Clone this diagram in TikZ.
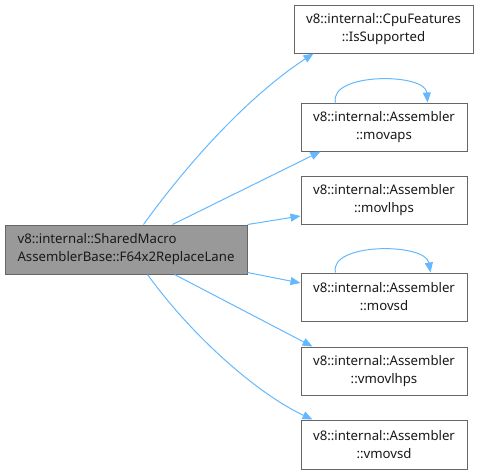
\documentclass[tikz,border=0pt]{standalone}
\usepackage{fontspec}
\setmainfont{Noto Sans}
\usetikzlibrary{arrows.meta,calc}
\definecolor{edgeblue}{HTML}{63B8FF}
\definecolor{boxborder}{HTML}{666666}
\definecolor{mainfill}{HTML}{999999}
\begin{document}
\begin{tikzpicture}[x=1pt,y=-1pt,
  box/.style={draw=boxborder,line width=1pt,fill=white,minimum height=48pt,inner sep=0pt,align=center,font=\fontsize{13.2}{18}\selectfont,text=black!90},
  mainbox/.style={box,fill=mainfill,align=left},
  edge/.style={draw=edgeblue,line width=1pt,-{Triangle[length=10pt,width=8pt]}}]
\useasboundingbox (0,0) rectangle (478,474);
\node[mainbox,minimum width=242pt,minimum height=49pt] (main) at (126,249.5) {v8::internal::SharedMacro\\AssemblerBase::F64x2ReplaceLane};
\node[box,minimum width=179pt] (cpu) at (383.5,29) {v8::internal::CpuFeatures\\::IsSupported};
\node[box,minimum width=166pt] (movaps) at (384,127) {v8::internal::Assembler\\::movaps};
\node[box,minimum width=166pt] (movlhps) at (384,200) {v8::internal::Assembler\\::movlhps};
\node[box,minimum width=166pt] (movsd) at (384,297) {v8::internal::Assembler\\::movsd};
\node[box,minimum width=166pt] (vmovlhps) at (384,371) {v8::internal::Assembler\\::vmovlhps};
\node[box,minimum width=166pt,minimum height=49pt] (vmovsd) at (384,444.5) {v8::internal::Assembler\\::vmovsd};
% edges
\draw[edge] ($(main.north west)+(139,0)$) .. controls (190,160) and (250,95) .. ($(cpu.south west)+(20,0)$);
\draw[edge] ($(main.north west)+(168,0)$) -- ($(movaps.south west)+(20,0)$);
\draw[edge] ($(main.north east)+(0,0)$) -- ($(movlhps.west)+(0,16)$);
\draw[edge] ($(main.east)+(0,23)$) -- ($(movsd.west)+(0,-14)$);
\draw[edge] ($(main.south west)+(170,0)$) -- ($(vmovlhps.north west)+(12,0)$);
\draw[edge] ($(main.south west)+(143,0)$) .. controls (195,340) and (260,395) .. ($(vmovsd.north west)+(12,0)$);
% self loops
\draw[edge] ($(movaps.north west)+(35,0)$) .. controls ($(movaps.north west)+(28,-30)$) and ($(movaps.north west)+(125,-30)$) .. ($(movaps.north west)+(127,0)$);
\draw[edge] ($(movsd.north west)+(35,0)$) .. controls ($(movsd.north west)+(28,-30)$) and ($(movsd.north west)+(125,-30)$) .. ($(movsd.north west)+(130,0)$);
\end{tikzpicture}
\end{document}
